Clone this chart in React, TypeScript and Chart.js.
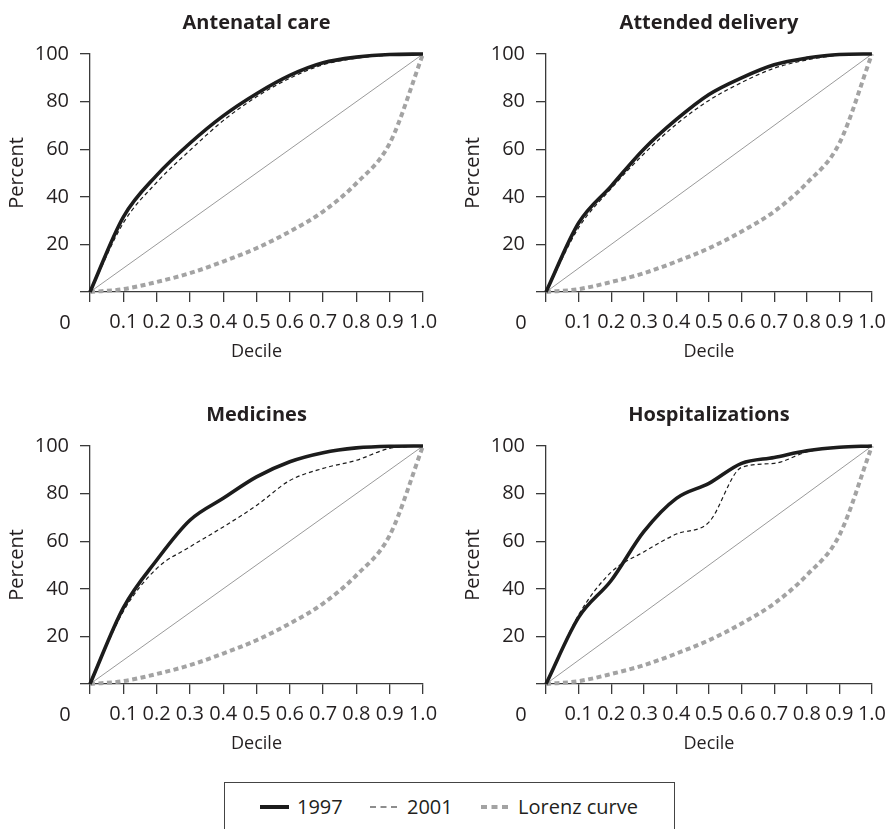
import React, { useEffect, useRef } from 'react';
import { Chart, registerables } from 'chart.js';
Chart.register(...registerables);

// ---------- data ----------
const deciles = [0, 0.1, 0.2, 0.3, 0.4, 0.5, 0.6, 0.7, 0.8, 0.9, 1.0];

const antenatal1997 = [0, 31.5, 49, 62.5, 74, 83.3, 91, 96.3, 98.7, 99.8, 100];
const antenatal2001 = [0, 29, 46, 59.5, 72, 82, 89.8, 95.5, 98.2, 99.5, 100];

const delivery1997 = [0, 29, 44.5, 60, 72.5, 83, 90, 95.5, 98.3, 99.8, 100];
const delivery2001 = [0, 27, 43.5, 58, 70.5, 80.5, 88, 94, 97.5, 99.5, 100];

const medicines1997 = [0, 32, 52, 68.8, 78, 87, 93.4, 97.2, 99.2, 99.9, 100];
const medicines2001 = [0, 30.5, 48.5, 57.6, 66, 75, 85.5, 90.6, 94, 99, 100];

const hospital1997 = [0, 28, 43.5, 64, 78, 84.3, 92.7, 95.2, 98, 99.5, 100];
const hospital2001 = [0, 29, 47, 55.5, 63, 68, 91, 92.7, 97.5, 99.5, 100];

const lorenz = [0, 1.2, 4.2, 7.9, 12.8, 18.4, 25.4, 33.8, 45.7, 62.5, 100];

const equalityX = [0, 1];
const equalityY = [0, 100];

const panelTitles = ['Antenatal care', 'Attended delivery', 'Medicines', 'Hospitalizations'];
const seriesLabels = ['1997', '2001', 'Lorenz curve'];
const xAxisTitle = 'Decile';
const yAxisTitle = 'Percent';
const zeroLabel = '0';
const yLabelTicks = [20, 40, 60, 80, 100];

// ---------- styles ----------
const FONT = '"Open Sans", "DejaVu Sans", sans-serif';
const TEXT = '#231f20';
const AXIS = '#3a3a3a';
const SOLID = '#1c1c1c';
const GREY = '#a3a3a3';

const toPoints = (xs: number[], ys: number[]) => xs.map((x, i) => ({ x, y: ys[i] }));

type PanelProps = {
  title: string;
  s1997: number[];
  s2001: number[];
  left: number;
  top: number;
  padLeft: number;
  padRight: number;
};

function Panel({ title, s1997, s2001, left, top, padLeft, padRight }: PanelProps) {
  const ref = useRef<HTMLCanvasElement | null>(null);

  useEffect(() => {
    if (!ref.current) return;
    const overlay = {
      id: 'overlayText',
      afterDraw(chart: any) {
        const { ctx, chartArea } = chart;
        ctx.save();
        ctx.fillStyle = TEXT;
        ctx.textAlign = 'center';
        ctx.textBaseline = 'middle';
        ctx.font = `bold 20px ${FONT}`;
        ctx.fillText(title, (chartArea.left + chartArea.right) / 2, chartArea.top - 31);
        ctx.font = `20px ${FONT}`;
        ctx.fillText(zeroLabel, chartArea.left - 25, chartArea.bottom + 31);
        ctx.restore();
      },
    };

    const chart = new Chart(ref.current, {
      type: 'line',
      data: {
        datasets: [
          {
            label: seriesLabels[0],
            data: toPoints(deciles, s1997),
            borderColor: SOLID,
            borderWidth: 3.6,
            pointRadius: 0,
            cubicInterpolationMode: 'monotone',
            clip: 6,
            order: 0,
          },
          {
            label: seriesLabels[1],
            data: toPoints(deciles, s2001),
            borderColor: SOLID,
            borderWidth: 1.2,
            borderDash: [4, 3],
            pointRadius: 0,
            cubicInterpolationMode: 'monotone',
            clip: 6,
            order: 1,
          },
          {
            label: seriesLabels[2],
            data: toPoints(deciles, lorenz),
            borderColor: GREY,
            borderWidth: 4,
            borderDash: [5, 3.5],
            borderCapStyle: 'butt',
            pointRadius: 0,
            cubicInterpolationMode: 'monotone',
            clip: 6,
            order: 2,
          },
          {
            label: 'equality',
            data: toPoints(equalityX, equalityY),
            borderColor: '#9a9a9a',
            borderWidth: 1,
            pointRadius: 0,
            tension: 0,
            order: 3,
          },
        ],
      } as any,
      options: {
        animation: false,
        responsive: false,
        events: [],
        layout: { padding: { left: padLeft, right: padRight, top: 54, bottom: 0 } },
        plugins: {
          legend: { display: false },
          title: { display: false },
          tooltip: { enabled: false },
        },
        scales: {
          x: {
            type: 'linear',
            min: 0,
            max: 1,
            afterFit: (s: any) => {
              s.height = 88;
            },
            ticks: {
              stepSize: 0.1,
              padding: 8,
              autoSkip: false,
              maxRotation: 0,
              color: TEXT,
              font: { family: FONT, size: 20 },
              callback: (v: any) => (Number(v) === 0 ? '' : Number(v).toFixed(1)),
            },
            grid: { drawOnChartArea: false, drawTicks: true, tickLength: 10, color: AXIS, lineWidth: 1.3 },
            border: { display: true, color: AXIS, width: 1.3 },
            title: {
              display: true,
              text: xAxisTitle,
              color: TEXT,
              font: { family: FONT, size: 18 },
              padding: { top: 0, bottom: 17 },
            },
          },
          y: {
            type: 'linear',
            min: 0,
            max: 100,
            afterFit: (s: any) => {
              s.width = 90;
            },
            ticks: {
              stepSize: 10,
              padding: 11,
              color: TEXT,
              font: { family: FONT, size: 20 },
              callback: (v: any) => (yLabelTicks.includes(Number(v)) ? String(v) : ''),
            },
            grid: { drawOnChartArea: false, drawTicks: true, tickLength: 10, color: AXIS, lineWidth: 1.3 },
            border: { display: true, color: AXIS, width: 1.3 },
            title: {
              display: true,
              text: yAxisTitle,
              color: TEXT,
              font: { family: FONT, size: 20 },
              padding: { top: 5, bottom: 0 },
            },
          },
        },
      } as any,
      plugins: [overlay],
    });
    return () => chart.destroy();
  }, [title, s1997, s2001, padLeft, padRight]);

  return (
    <div style={{ position: 'absolute', left, top, width: 447, height: 380 }}>
      <canvas ref={ref} width={447} height={380} style={{ display: 'block' }} />
    </div>
  );
}

function Legend() {
  const textStyle: React.CSSProperties = {
    position: 'absolute',
    top: 796,
    height: 22,
    lineHeight: '22px',
    fontFamily: FONT,
    fontSize: 20,
    color: TEXT,
    whiteSpace: 'nowrap',
  };
  return (
    <>
      <div
        style={{
          position: 'absolute',
          left: 224,
          top: 782,
          width: 449,
          height: 80,
          border: '1px solid #444',
        }}
      />
      <svg style={{ position: 'absolute', left: 260, top: 797, width: 29, height: 20 }}>
        <line x1={0} y1={10} x2={29} y2={10} stroke={SOLID} strokeWidth={4} />
      </svg>
      <div style={{ ...textStyle, left: 297 }}>{seriesLabels[0]}</div>
      <svg style={{ position: 'absolute', left: 370, top: 797, width: 27, height: 20 }}>
        <line x1={0} y1={10} x2={27} y2={10} stroke={SOLID} strokeWidth={1.2} strokeDasharray="6 4.5" />
      </svg>
      <div style={{ ...textStyle, left: 407 }}>{seriesLabels[1]}</div>
      <svg style={{ position: 'absolute', left: 481, top: 797, width: 27, height: 20 }}>
        <line x1={0} y1={10} x2={27} y2={10} stroke={GREY} strokeWidth={4} strokeDasharray="6 4.5" />
      </svg>
      <div style={{ ...textStyle, left: 518 }}>{seriesLabels[2]}</div>
    </>
  );
}

export default function App() {
  return (
    <div
      style={{
        position: 'absolute',
        left: 0,
        top: 0,
        width: 894,
        height: 829,
        overflow: 'hidden',
        background: '#fff',
      }}
    >
      <Panel title={panelTitles[0]} s1997={antenatal1997} s2001={antenatal2001} left={0} top={0} padLeft={0} padRight={24} />
      <Panel title={panelTitles[1]} s1997={delivery1997} s2001={delivery2001} left={447} top={0} padLeft={9} padRight={15} />
      <Panel title={panelTitles[2]} s1997={medicines1997} s2001={medicines2001} left={0} top={392} padLeft={0} padRight={24} />
      <Panel title={panelTitles[3]} s1997={hospital1997} s2001={hospital2001} left={447} top={392} padLeft={9} padRight={15} />
      <Legend />
    </div>
  );
}
